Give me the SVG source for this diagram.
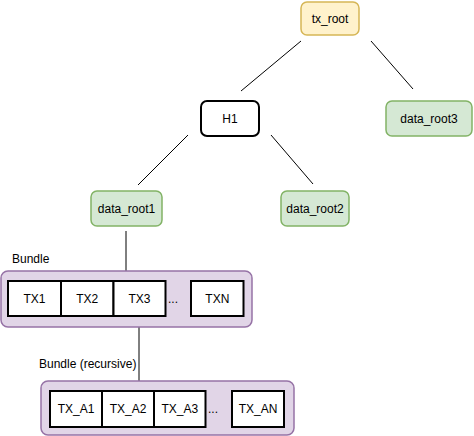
<svg xmlns="http://www.w3.org/2000/svg" width="474" height="436" viewBox="0 0 474 436">
<style>
text{font-family:"Liberation Sans",Arial,Helvetica,sans-serif;font-size:12px;fill:#000}
.c{text-anchor:middle;dominant-baseline:central}
.y{fill:#fff2cc;stroke:#d6b656;stroke-width:1.5}
.g{fill:#d5e8d4;stroke:#82b366;stroke-width:1.5}
.w{fill:#fff;stroke:#000;stroke-width:2}
.p{fill:#e1d5e7;stroke:#9673a6;stroke-width:1.5}
.t{fill:#fff;stroke:#000;stroke-width:2}
.e{stroke:#000;stroke-width:1;fill:none}
</style>
<rect width="474" height="436" fill="#fff"/>
<g id="connectors">
<line class="e" x1="301" y1="41" x2="241" y2="91"/>
<line class="e" x1="371" y1="41" x2="413" y2="89"/>
<line class="e" x1="188" y1="135" x2="138" y2="185"/>
<line class="e" x1="271" y1="135" x2="313" y2="184"/>
<line class="e" x1="126" y1="231" x2="126" y2="271"/>
<line class="e" x1="139" y1="316" x2="139" y2="381"/>
</g>
<g id="tx_root"><rect class="y" x="301" y="2" width="58" height="33" rx="6"/><text class="c" x="330" y="18.5">tx_root</text></g>
<g id="H1"><rect class="w" x="201" y="101" width="58" height="35" rx="6"/><text class="c" x="230" y="118.5">H1</text></g>
<g id="data_root3"><rect class="g" x="386" y="101" width="86" height="35" rx="6"/><text class="c" x="429" y="118.5">data_root3</text></g>
<g id="data_root1"><rect class="g" x="91" y="191" width="71" height="35" rx="6"/><text class="c" x="126.5" y="208.5">data_root1</text></g>
<g id="data_root2"><rect class="g" x="281" y="191" width="68" height="35" rx="6"/><text class="c" x="315" y="208.5">data_root2</text></g>
<g id="bundle">
<text x="12" y="263">Bundle</text>
<rect class="p" x="1" y="271" width="251" height="56" rx="7"/>
<g id="TX1"><rect class="t" x="8" y="281" width="53" height="35"/><text class="c" x="34.5" y="298.5">TX1</text></g>
<g id="TX2"><rect class="t" x="61" y="281" width="52.5" height="35"/><text class="c" x="87.3" y="298.5">TX2</text></g>
<g id="TX3"><rect class="t" x="113.5" y="281" width="52" height="35"/><text class="c" x="139.5" y="298.5">TX3</text></g>
<text x="168" y="303">...</text>
<g id="TXN"><rect class="t" x="191" y="281" width="52.5" height="35"/><text class="c" x="217.3" y="298.5">TXN</text></g>
</g>
<g id="bundle_recursive">
<text x="39" y="368">Bundle (recursive)</text>
<rect class="p" x="41" y="381" width="253" height="54" rx="7"/>
<g id="TX_A1"><rect class="t" x="50" y="391" width="52" height="36"/><text class="c" x="76" y="409">TX_A1</text></g>
<g id="TX_A2"><rect class="t" x="102" y="391" width="52" height="36"/><text class="c" x="128" y="409">TX_A2</text></g>
<g id="TX_A3"><rect class="t" x="154" y="391" width="51.5" height="36"/><text class="c" x="179.8" y="409">TX_A3</text></g>
<text x="208" y="413">...</text>
<g id="TX_AN"><rect class="t" x="232" y="391" width="52" height="36"/><text class="c" x="258" y="409">TX_AN</text></g>
</g>
</svg>
